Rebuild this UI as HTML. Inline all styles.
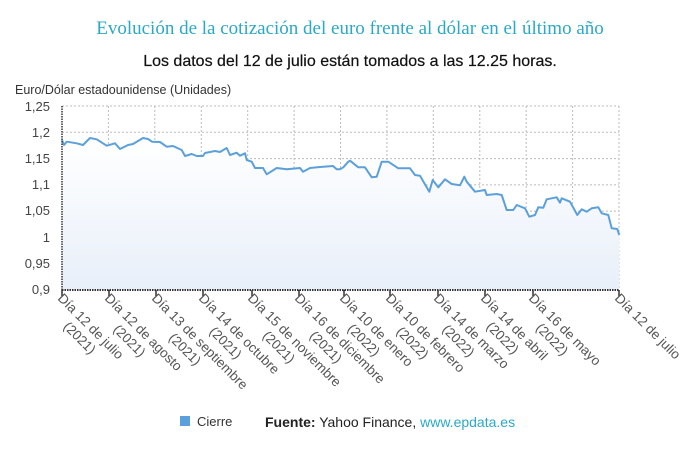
<!DOCTYPE html>
<html><head><meta charset="utf-8"><style>
body{margin:0;background:#fff;width:700px;height:460px;overflow:hidden}
svg{font-family:"Liberation Sans",sans-serif}
</style></head><body>
<svg width="700" height="460" viewBox="0 0 700 460">
<defs><linearGradient id="g" x1="0" y1="0" x2="0" y2="1"><stop offset="0" stop-color="#ffffff"/><stop offset="1" stop-color="#e8eff9"/></linearGradient></defs>
<text x="350" y="34" text-anchor="middle" font-family="Liberation Serif,serif" font-size="19" fill="#2aa9c6">Evolución de la cotización del euro frente al dólar en el último año</text>
<text x="350" y="66" text-anchor="middle" font-size="16" fill="#111" stroke="#111" stroke-width="0.2">Los datos del 12 de julio están tomados a las 12.25 horas.</text>
<text x="15" y="94" font-size="12.5" fill="#333">Euro/Dólar estadounidense (Unidades)</text>
<g stroke="#bbb" stroke-dasharray="2,2" stroke-width="1">
<line x1="62" y1="106" x2="619" y2="106"/><line x1="62" y1="132.3" x2="619" y2="132.3"/><line x1="62" y1="158.6" x2="619" y2="158.6"/><line x1="62" y1="184.9" x2="619" y2="184.9"/><line x1="62" y1="211.1" x2="619" y2="211.1"/><line x1="62" y1="237.4" x2="619" y2="237.4"/><line x1="62" y1="263.7" x2="619" y2="263.7"/>
<line x1="108.4" y1="106" x2="108.4" y2="290"/><line x1="154.8" y1="106" x2="154.8" y2="290"/><line x1="201.3" y1="106" x2="201.3" y2="290"/><line x1="247.7" y1="106" x2="247.7" y2="290"/><line x1="294.1" y1="106" x2="294.1" y2="290"/><line x1="340.5" y1="106" x2="340.5" y2="290"/><line x1="386.9" y1="106" x2="386.9" y2="290"/><line x1="433.3" y1="106" x2="433.3" y2="290"/><line x1="479.8" y1="106" x2="479.8" y2="290"/><line x1="526.2" y1="106" x2="526.2" y2="290"/><line x1="572.6" y1="106" x2="572.6" y2="290"/><line x1="619" y1="106" x2="619" y2="290"/>
</g>
<path fill="url(#g)" d="M62,140 L64,145 66.7,141.7 76.7,143.3 83,145 90,138 96.7,139.3 106.7,145.7 115,143.3 120,149 128,145 133,144 143,138 148,139 152,141.7 160,142 166.7,146.7 173,146 181.7,150 185,156 191.7,154 196.7,156 203,156 205,153 215,151 220,152 226.7,148 230,155 236.7,152.7 240,155.7 245,153.3 246.7,160 251.7,161.7 255,168 263,168 266.7,174.3 276.7,168 286.7,169.3 300,168 303,171.7 310,168 320,167 333,166 336.7,169.3 340,169.3 343.3,167.3 348.3,161.7 350,160.7 358.3,167.3 365,167.3 371.7,177.3 376.7,176.7 381.7,161.7 388.3,161.7 398.3,168.3 410,168.3 415,175 420,175.7 429.3,191.7 432.7,180 438.3,187.3 445,179.3 451.7,184 460,185.3 464.3,176.7 466.7,181.7 475,191.7 485,190 486.7,195 496.7,194 501.7,195 506.7,210 513.3,210 516.7,205 525,208.3 529.3,216.7 535,215 538.3,207.3 543.3,207.7 546.7,199.3 556.7,197.3 560,202.7 561.7,198.3 570,201.7 577.3,215 581.7,209.3 586.7,211.7 591.7,208.3 598.3,207.3 601.7,213.3 608.3,215 611.7,228.3 617.3,229 619.3,235 L619,290 L62,290 Z"/>
<polyline fill="none" stroke="#5ba0da" stroke-width="2" stroke-linejoin="round" points="62,140 64,145 66.7,141.7 76.7,143.3 83,145 90,138 96.7,139.3 106.7,145.7 115,143.3 120,149 128,145 133,144 143,138 148,139 152,141.7 160,142 166.7,146.7 173,146 181.7,150 185,156 191.7,154 196.7,156 203,156 205,153 215,151 220,152 226.7,148 230,155 236.7,152.7 240,155.7 245,153.3 246.7,160 251.7,161.7 255,168 263,168 266.7,174.3 276.7,168 286.7,169.3 300,168 303,171.7 310,168 320,167 333,166 336.7,169.3 340,169.3 343.3,167.3 348.3,161.7 350,160.7 358.3,167.3 365,167.3 371.7,177.3 376.7,176.7 381.7,161.7 388.3,161.7 398.3,168.3 410,168.3 415,175 420,175.7 429.3,191.7 432.7,180 438.3,187.3 445,179.3 451.7,184 460,185.3 464.3,176.7 466.7,181.7 475,191.7 485,190 486.7,195 496.7,194 501.7,195 506.7,210 513.3,210 516.7,205 525,208.3 529.3,216.7 535,215 538.3,207.3 543.3,207.7 546.7,199.3 556.7,197.3 560,202.7 561.7,198.3 570,201.7 577.3,215 581.7,209.3 586.7,211.7 591.7,208.3 598.3,207.3 601.7,213.3 608.3,215 611.7,228.3 617.3,229 619.3,235"/>
<line x1="62" y1="106" x2="62" y2="290" stroke="#333" stroke-width="1.5" stroke-dasharray="1.5,1"/>
<line x1="62" y1="290" x2="619" y2="290" stroke="#333" stroke-width="2" stroke-dasharray="1.5,1"/>
<g font-size="13" fill="#444" text-anchor="end">
<text x="50" y="111">1,25</text><text x="50" y="137">1,2</text><text x="50" y="163">1,15</text><text x="50" y="189">1,1</text><text x="50" y="215">1,05</text><text x="50" y="242">1</text><text x="50" y="268">0,95</text><text x="50" y="294">0,9</text>
</g>
<g stroke="#333" stroke-width="1.5">
<line x1="62" y1="290" x2="62" y2="296"/><line x1="109" y1="290" x2="109" y2="296"/><line x1="156" y1="290" x2="156" y2="296"/><line x1="203" y1="290" x2="203" y2="296"/><line x1="252" y1="290" x2="252" y2="296"/><line x1="299" y1="290" x2="299" y2="296"/><line x1="344" y1="290" x2="344" y2="296"/><line x1="390" y1="290" x2="390" y2="296"/><line x1="438" y1="290" x2="438" y2="296"/><line x1="485" y1="290" x2="485" y2="296"/><line x1="533" y1="290" x2="533" y2="296"/><line x1="619" y1="290" x2="619" y2="296"/>
</g>
<g font-size="13.5" fill="#555">
<g transform="translate(57,299) rotate(45)"><text x="0" y="0">Día 12 de julio</text><text x="24" y="16">(2021)</text></g>
<g transform="translate(104,299) rotate(45)"><text x="0" y="0">Día 12 de agosto</text><text x="28" y="16">(2021)</text></g>
<g transform="translate(151,299) rotate(45)"><text x="0" y="0">Día 13 de septiembre</text><text x="40" y="16">(2021)</text></g>
<g transform="translate(198,299) rotate(45)"><text x="0" y="0">Día 14 de octubre</text><text x="31" y="16">(2021)</text></g>
<g transform="translate(247,299) rotate(45)"><text x="0" y="0">Día 15 de noviembre</text><text x="37" y="16">(2021)</text></g>
<g transform="translate(294,299) rotate(45)"><text x="0" y="0">Día 16 de diciembre</text><text x="37" y="16">(2021)</text></g>
<g transform="translate(339,299) rotate(45)"><text x="0" y="0">Día 10 de enero</text><text x="27" y="16">(2022)</text></g>
<g transform="translate(385,299) rotate(45)"><text x="0" y="0">Día 10 de febrero</text><text x="31" y="16">(2022)</text></g>
<g transform="translate(433,299) rotate(45)"><text x="0" y="0">Día 14 de marzo</text><text x="28" y="16">(2022)</text></g>
<g transform="translate(480,299) rotate(45)"><text x="0" y="0">Día 14 de abril</text><text x="24" y="16">(2022)</text></g>
<g transform="translate(528,299) rotate(45)"><text x="0" y="0">Día 16 de mayo</text><text x="26" y="16">(2022)</text></g>
<g transform="translate(614,299) rotate(45)"><text x="0" y="0">Día 12 de julio</text></g>
</g>
<rect x="180" y="416" width="10" height="10" fill="#5ba0da"/>
<text x="197" y="426" font-size="13" fill="#333">Cierre</text>
<text x="265" y="427" font-size="14" fill="#222"><tspan font-weight="bold">Fuente:</tspan> Yahoo Finance, <tspan fill="#2aa9c6">www.epdata.es</tspan></text>
</svg>
</body></html>
